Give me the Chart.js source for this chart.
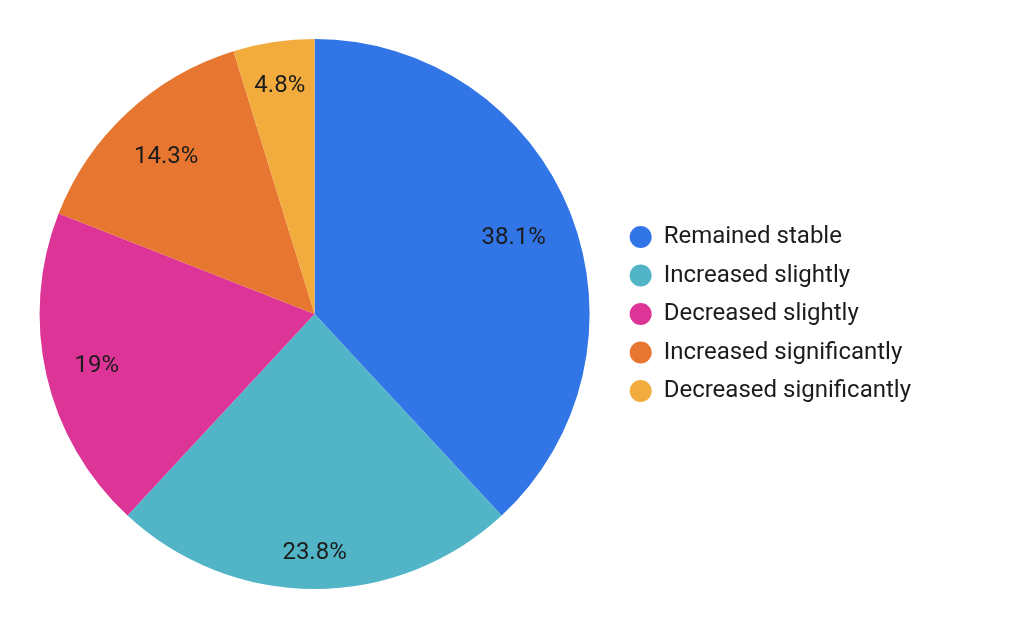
<!DOCTYPE html>
<html>
<head>
<meta charset="utf-8">
<script src="https://cdn.jsdelivr.net/npm/chart.js@4/dist/chart.umd.min.js"></script>
<style>
html,body{margin:0;padding:0;background:#fff;}
#wrap{width:1024px;height:626px;position:relative;}
</style>
</head>
<body>
<div id="wrap"><canvas id="c" width="1024" height="626"></canvas></div>
<script>
const categories = ["Remained stable", "Increased slightly", "Decreased slightly", "Increased significantly", "Decreased significantly"];
const values = [8, 5, 4, 3, 1];
const percentLabels = ["38.1%", "23.8%", "19%", "14.3%", "4.8%"];
const colors = ["#3275E6", "#51B4C7", "#DD3497", "#E67630", "#F2AC3E"];

const labelPlugin = {
  id: 'sliceLabels',
  afterDatasetsDraw(chart) {
    const ctx = chart.ctx;
    const meta = chart.getDatasetMeta(0);
    ctx.save();
    ctx.font = '24px Roboto';
    ctx.fillStyle = '#1c1c1c';
    ctx.textAlign = 'center';
    ctx.textBaseline = 'alphabetic';
    const capH = 17;
    meta.data.forEach((arc, i) => {
      const p = arc.getProps(['x','y','startAngle','endAngle','outerRadius'], true);
      const mid = (p.startAngle + p.endAngle) / 2;
      const ux = Math.cos(mid), uy = Math.sin(mid);
      const w = ctx.measureText(percentLabels[i]).width;
      const L = p.outerRadius * 0.898;
      const b = Math.abs(ux) * w / 2 + Math.abs(uy) * capH / 2;
      const c = (w * w + capH * capH) / 4 - L * L;
      const d = -b + Math.sqrt(b * b - c);
      ctx.fillText(percentLabels[i], p.x + ux * d, p.y + uy * d + capH / 2);
    });
    ctx.restore();
  }
};

new Chart(document.getElementById('c'), {
  type: 'pie',
  data: {
    labels: categories,
    datasets: [{ data: values, backgroundColor: colors, borderWidth: 0, hoverOffset: 0 }]
  },
  options: {
    responsive: false,
    animation: false,
    events: [],
    layout: { padding: { top: 39, bottom: 37, left: 14, right: 103 } },
    plugins: {
      tooltip: { enabled: false },
      legend: {
        position: 'right',
        labels: {
          usePointStyle: true,
          pointStyle: 'circle',
          boxHeight: 15.5,
          pointStyleWidth: 22,
          padding: 14.5,
          color: '#1c1c1c',
          font: { family: 'Roboto', size: 24, lineHeight: 1.2 }
        }
      }
    }
  },
  plugins: [labelPlugin]
});
</script>
</body>
</html>
